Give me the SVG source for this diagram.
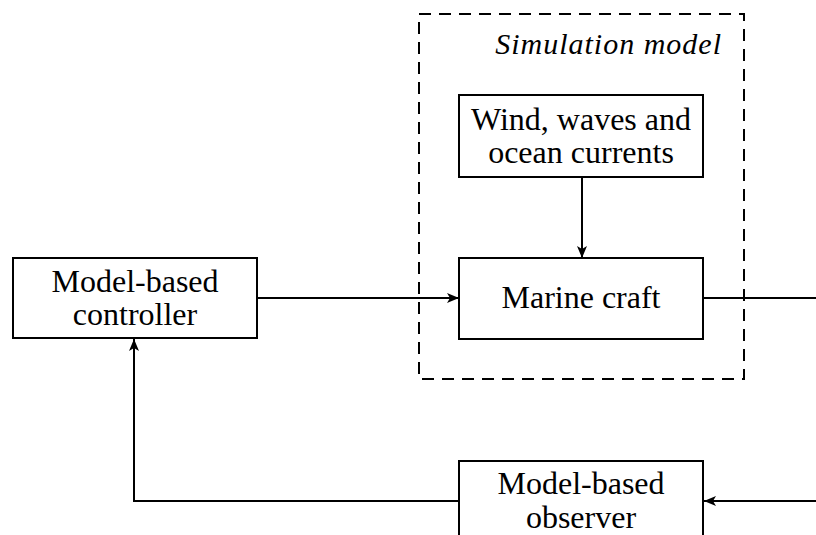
<svg xmlns="http://www.w3.org/2000/svg" width="816" height="535" viewBox="0 0 816 535">
  <style>
    .box { fill: #fff; stroke: #000; stroke-width: 2; }
    .wire { fill: none; stroke: #000; stroke-width: 2; }
    .frame { fill: none; stroke: #000; stroke-width: 2; stroke-dasharray: 12 8; }
    text { font-family: "Liberation Serif", "DejaVu Serif", serif; font-size: 32px; fill: #000; text-anchor: middle; }
    .title { font-style: italic; font-size: 30px; letter-spacing: 1px; text-anchor: end; }
  </style>
  <defs>
    <marker id="arrow" viewBox="0 0 12 10" refX="12" refY="5" markerWidth="12" markerHeight="10" markerUnits="userSpaceOnUse" orient="auto">
      <path d="M0,0 L12,5 L0,10 L3,5 Z" fill="#000"/>
    </marker>
  </defs>

  <!-- simulation boundary -->
  <g id="simulation">
    <rect class="frame" x="419" y="14" width="325" height="365"/>
    <text class="title" x="722" y="54">Simulation model</text>
  </g>

  <!-- connectors -->
  <g id="connectors">
    <line class="wire" x1="582" y1="177" x2="582" y2="258" marker-end="url(#arrow)"/>
    <line class="wire" x1="258" y1="298" x2="459" y2="298" marker-end="url(#arrow)"/>
    <line class="wire" x1="703" y1="298" x2="816" y2="298"/>
    <line class="wire" x1="816" y1="501" x2="704" y2="501" marker-end="url(#arrow)"/>
    <polyline class="wire" points="459,501 134,501 134,339" marker-end="url(#arrow)"/>
  </g>

  <g id="disturbances">
    <rect class="box" x="459" y="95" width="244" height="82"/>
    <text x="581" y="130">Wind, waves and</text>
    <text x="581" y="163">ocean currents</text>
  </g>

  <g id="craft">
    <rect class="box" x="459" y="258" width="244" height="81"/>
    <text x="581" y="308">Marine craft</text>
  </g>

  <g id="controller">
    <rect class="box" x="13" y="258" width="244" height="80"/>
    <text x="135" y="292">Model-based</text>
    <text x="135" y="325">controller</text>
  </g>

  <g id="observer">
    <rect class="box" x="459" y="461" width="244" height="90"/>
    <text x="581" y="494">Model-based</text>
    <text x="581" y="528">observer</text>
  </g>
</svg>
